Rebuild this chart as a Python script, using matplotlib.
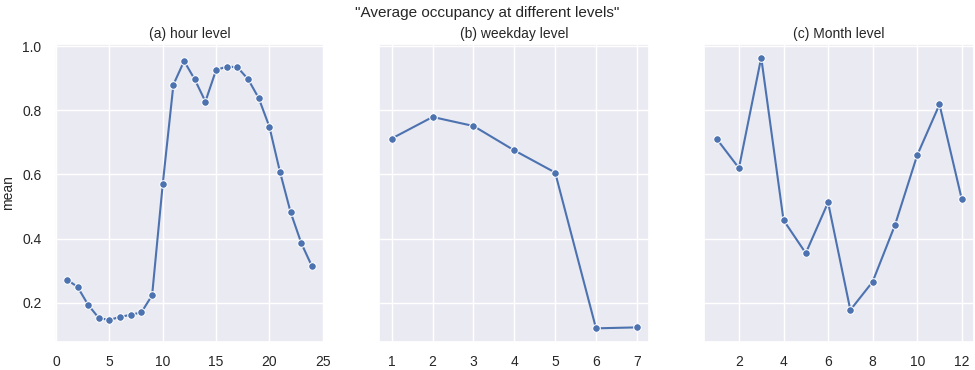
import matplotlib
matplotlib.use('Agg')
import matplotlib.pyplot as plt
import seaborn as sns

hours = list(range(1, 25))
hour_mean = [0.273, 0.250, 0.194, 0.153, 0.147, 0.157, 0.163, 0.171, 0.224, 0.571,
             0.880, 0.953, 0.896, 0.827, 0.925, 0.936, 0.934, 0.897, 0.838, 0.749,
             0.608, 0.482, 0.386, 0.314]

weekdays = list(range(1, 8))
weekday_mean = [0.712, 0.779, 0.751, 0.675, 0.606, 0.121, 0.124]

months = list(range(1, 13))
month_mean = [0.711, 0.620, 0.964, 0.458, 0.355, 0.513, 0.178, 0.266, 0.442, 0.660,
              0.818, 0.523]

sns.set_theme(style='darkgrid')
plt.rcParams['font.family'] = ['Liberation Sans', 'DejaVu Sans']

fig, axes = plt.subplots(1, 3, figsize=(9.75, 3.7), dpi=100, sharey=True)
fig.subplots_adjust(left=0.056, right=0.999, top=0.881, bottom=0.076, wspace=0.205)

panels = [
    (hours, hour_mean, '(a) hour level'),
    (weekdays, weekday_mean, '(b) weekday level'),
    (months, month_mean, '(c) Month level'),
]
for ax, (x, y, title) in zip(axes, panels):
    sns.lineplot(x=x, y=y, marker='o', ax=ax, markersize=5.5)
    ax.set_title(title, fontsize=10, pad=4)
    ax.tick_params(labelsize=10)

axes[0].set_ylabel('mean', fontsize=10, labelpad=5)
axes[0].set_xticks([0, 5, 10, 15, 20, 25])
axes[1].set_xticks(weekdays)
axes[2].set_xticks([2, 4, 6, 8, 10, 12])
fig.suptitle('"Average occupancy at different levels"', fontsize=11, y=0.985)

fig.savefig('out.png', dpi=100)
